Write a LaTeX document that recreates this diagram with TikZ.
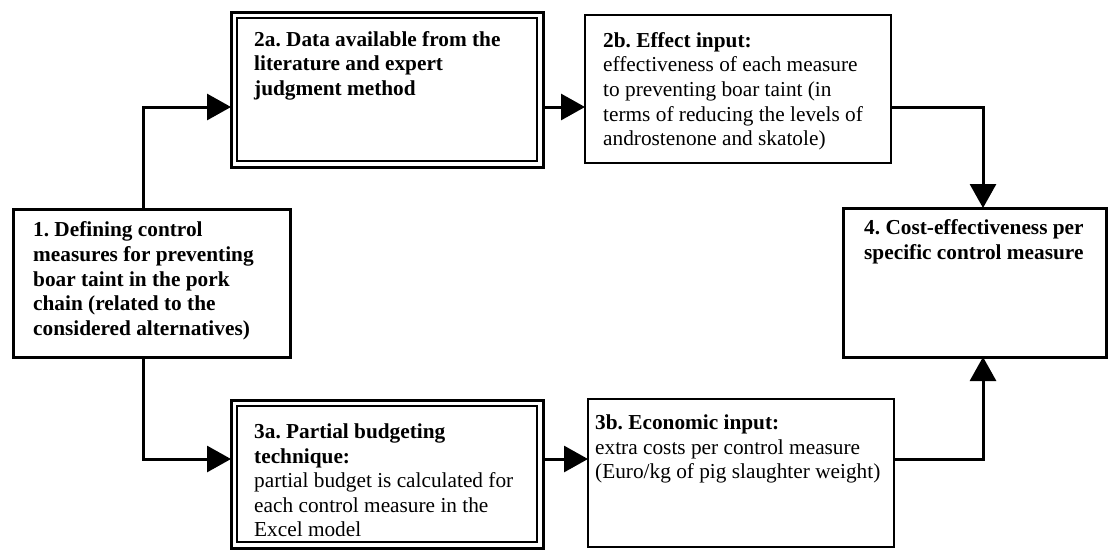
\documentclass[tikz,border=0pt]{standalone}
\usepackage{fontspec}
\setmainfont{Liberation Serif}
\usetikzlibrary{arrows.meta}
\frenchspacing
\begin{document}
\begin{tikzpicture}[x=1pt,y=-1pt,
  thickbox/.style={draw, line width=3pt, inner sep=0pt, outer sep=0pt, anchor=north west},
  thinbox/.style={draw, line width=2pt, inner sep=0pt, outer sep=0pt, anchor=north west},
  innerframe/.style={draw, line width=2pt},
  txt/.style={anchor=north west, inner sep=0pt, align=left, font=\fontsize{21.3}{24.6}\selectfont},
  arr/.style={line width=3pt, -{Triangle[length=24pt,width=26pt]}}]
\useasboundingbox (0,0) rectangle (1109,550);
% boxes
\node[thickbox, minimum width=277pt, minimum height=148pt] (b1) at (13,209) {};
\node[thickbox, minimum width=312pt, minimum height=155pt] (b2a) at (231,12) {};
\draw[innerframe] ([shift={(6,6)}]b2a.north west) rectangle ([shift={(-6,-6)}]b2a.south east);
\node[thinbox, minimum width=306pt, minimum height=148pt] (b2b) at (585,15) {};
\node[thickbox, minimum width=263pt, minimum height=149pt] (b4) at (843,208) {};
\node[thickbox, minimum width=312pt, minimum height=148pt] (b3a) at (231,400) {};
\draw[innerframe] ([shift={(6,6)}]b3a.north west) rectangle ([shift={(-6,-6)}]b3a.south east);
\node[thinbox, minimum width=306pt, minimum height=148pt] (b3b) at (588,399) {};
% texts
\node[txt] (t1) at (33,219.5) {\strut\textbf{1. Defining control}\\\textbf{measures for preventing}\\\textbf{boar taint in the pork}\\\textbf{chain (related to the}\\\textbf{considered alternatives)}};
\node[txt] (t2a) at (254,28.8) {\strut\textbf{2a. Data available from the}\\\textbf{literature and expert}\\\textbf{judgment method}};
\node[txt] (t2b) at (603,29.8) {\strut\textbf{2b. Effect input:}\\effectiveness of each measure\\to preventing boar taint (in\\terms of reducing the levels of\\androstenone and skatole)};
\node[txt] (t4) at (864,217.5) {\strut\textbf{4. Cost-effectiveness per}\\\textbf{specific control measure}};
\node[txt] (t3a) at (254,421) {\strut\textbf{3a. Partial budgeting}\\\textbf{technique:}\\partial budget is calculated for\\each control measure in the\\Excel model};
\node[txt] (t3b) at (595,412) {\strut\textbf{3b. Economic input:}\\extra costs per control measure\\(Euro/kg of pig slaughter weight)};
% routing coordinates
\coordinate (rowA) at (0,107);
\coordinate (rowB) at (0,459);
\coordinate (colL) at (143,0);
\coordinate (colR) at (983,0);
% connectors
\draw[arr] (b1.north -| colL) |- (b2a.west |- rowA);
\draw[arr] (b2a.east |- rowA) -- (b2b.west |- rowA);
\draw[arr] (b2b.east |- rowA) -| (b4.north -| colR);
\draw[arr] (b1.south -| colL) |- (b3a.west |- rowB);
\draw[arr] (b3a.east |- rowB) -- (b3b.west |- rowB);
\draw[arr] (b3b.east |- rowB) -| (b4.south -| colR);
\end{tikzpicture}
\end{document}
